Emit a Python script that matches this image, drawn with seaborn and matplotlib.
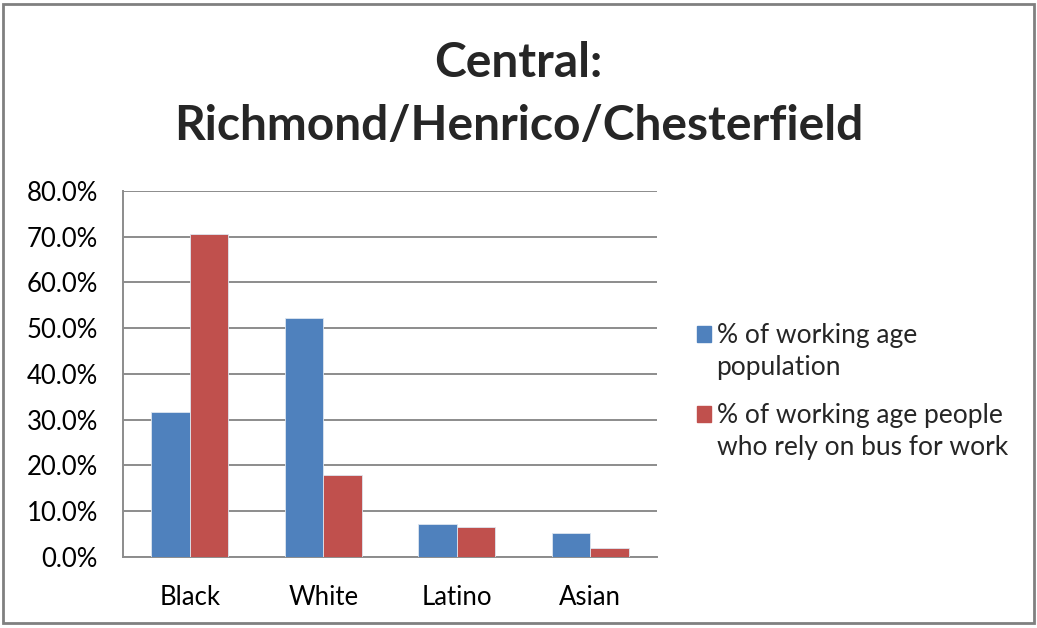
import matplotlib
matplotlib.use("Agg")
import matplotlib.pyplot as plt
import matplotlib.patches as mpatches
from matplotlib.legend_handler import HandlerPatch
from matplotlib.ticker import PercentFormatter
import seaborn as sns
import pandas as pd

# Share of each group (percent)
categories = ["Black", "White", "Latino", "Asian"]
working_age_population = [31.6, 52.3, 7.1, 5.2]
bus_reliant_workers = [70.5, 18.0, 6.5, 2.0]
series_names = ["% of working age\npopulation",
                "% of working age people\nwho rely on bus for work"]
y_ticks = [0, 10, 20, 30, 40, 50, 60, 70, 80]

df = pd.DataFrame({
    "group": categories * 2,
    "value": working_age_population + bus_reliant_workers,
    "series": [series_names[0]] * len(categories) + [series_names[1]] * len(categories),
})

sns.set_theme(style="white")
plt.rcParams["font.family"] = ["Lato", "DejaVu Sans"]

fig = plt.figure(figsize=(10.37, 6.28), dpi=100)
ax = fig.add_axes([0.1186, 0.1131, 0.515, 0.5828])

palette = ["#4F81BD", "#C0504D"]
sns.barplot(data=df, x="group", y="value", hue="series", palette=palette,
            width=0.58, saturation=1, ax=ax, zorder=3, linewidth=0.6,
            edgecolor="#dde6f0")

ax.set_ylim(0, 80)
ax.set_yticks(y_ticks)
ax.yaxis.set_major_formatter(PercentFormatter(decimals=1))
ax.grid(axis="y", color="#8c8c8c", linewidth=1.4, zorder=0)
ax.set_axisbelow(True)
for side in ["top", "right"]:
    ax.spines[side].set_visible(False)
for side in ["left", "bottom"]:
    ax.spines[side].set_color("#8c8c8c")
    ax.spines[side].set_linewidth(1.4)
ax.set_xlabel("")
ax.set_ylabel("")
ax.tick_params(axis="both", labelsize=18.5, colors="#000000", length=0)
ax.tick_params(axis="y", pad=18)
ax.tick_params(axis="x", pad=20)


def top_aligned_square(legend, orig_handle, xdescent, ydescent,
                       width, height, fontsize):
    # Legend swatch placed beside the first text line
    return mpatches.Rectangle((-xdescent, -ydescent + 0.68 * fontsize),
                              width, height)


LEGEND_FONTSIZE = 19
handles = [mpatches.Patch(color=c) for c in palette]
leg = ax.legend(handles, series_names, loc="center left",
                bbox_to_anchor=(1.03, 0.452), frameon=False,
                fontsize=LEGEND_FONTSIZE,
                handlelength=0.55, handleheight=0.55, handletextpad=0.2,
                labelspacing=0.85,
                handler_map={mpatches.Patch: HandlerPatch(patch_func=top_aligned_square)})
for t in leg.get_texts():
    t.set_linespacing(1.38)

fig.text(0.5, 0.90, "Central:", ha="center", va="center",
         fontsize=34.5, fontweight="bold")
fig.text(0.5, 0.80, "Richmond/Henrico/Chesterfield", ha="center", va="center",
         fontsize=34.5, fontweight="bold")

# Outer chart frame
fig.patches.append(mpatches.Rectangle((0.003, 0.008), 0.994, 0.986,
                                      transform=fig.transFigure, fill=False,
                                      edgecolor="#808080", linewidth=2))

fig.savefig("out.png", dpi=100)
